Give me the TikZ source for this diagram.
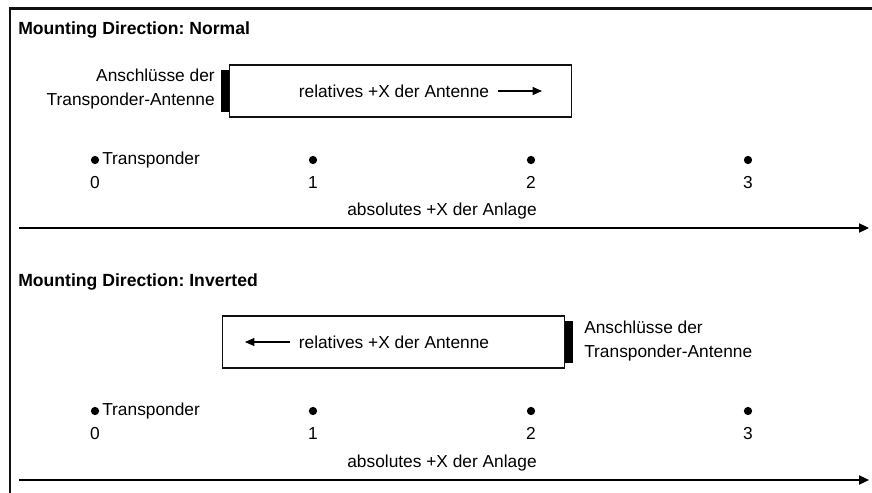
\documentclass[tikz,border=0pt]{standalone}
\usepackage{fontspec}
\setmainfont{Liberation Sans}
\usepackage{tikz}
\usetikzlibrary{arrows.meta,positioning}
\definecolor{frameink}{HTML}{111111}
\frenchspacing

\begin{document}
\begin{tikzpicture}[
  x=0.75pt, y=-0.75pt,
  font=\fontsize{13}{18}\selectfont,
  title/.style={font=\fontsize{13.2}{18}\selectfont\bfseries, anchor=west, inner sep=0pt},
  txt/.style={inner sep=0pt},
  num/.style={inner sep=0pt, anchor=base},
  antbox/.style={draw=frameink, line width=0.9pt, minimum width=257pt, minimum height=39pt, inner sep=0pt},
  plug/.style={fill=black, minimum width=6pt, minimum height=31.5pt, inner sep=0pt},
  dot/.style={circle, fill=black, minimum size=6.2pt, inner sep=0pt},
  relarr/.style={line width=0.8pt, -{Triangle[length=7pt,width=6pt]}},
  axis/.style={line width=0.8pt, -{Triangle[length=7.5pt,width=7pt]}},
]
\useasboundingbox (0,0) rectangle (872,493);
\draw[line width=2.2pt, frameink] (10,493) -- (10,8.5) -- (872,8.5);
% normal
\node[title] (titA) at (18,30) {Mounting Direction: Normal};
\node[antbox] (boxA) at (400.5,91) {};
\node[plug] (plugA) at (225,91) {};
\node[txt, anchor=east, align=right] (conA) at (215,89) {Anschlüsse der\\Transponder-Antenne};
\node[txt] (relA) at (394,91) {relatives +X der Antenne};
\coordinate (arrA0) at (498,91);
\coordinate (arrA1) at (542,91);
\draw[relarr] (arrA0) -- (arrA1);
\node[dot] (dA0) at (95,160) {};
\node[dot] (dA1) at (313,160) {};
\node[dot] (dA2) at (531,160) {};
\node[dot] (dA3) at (748,160) {};
\node[txt, anchor=west] (trA) at (102,160) {Transponder};
\node[num] (nA0) at (95,188) {0};
\node[num] (nA1) at (313,188) {1};
\node[num] (nA2) at (531,188) {2};
\node[num] (nA3) at (748,188) {3};
\node[txt] (absA) at (442,211) {absolutes +X der Anlage};
\coordinate (axA0) at (19,228);
\coordinate (axA1) at (869,228);
\draw[axis] (axA0) -- (axA1);
% inverted
\node[title] (titB) at (18,282) {Mounting Direction: Inverted};
\node[antbox] (boxB) at (393.5,342) {};
\node[plug] (plugB) at (569,342) {};
\node[txt, anchor=west, align=left] (conB) at (584,341) {Anschlüsse der\\Transponder-Antenne};
\node[txt] (relB) at (394,342) {relatives +X der Antenne};
\coordinate (arrB0) at (290,342);
\coordinate (arrB1) at (245,342);
\draw[relarr] (arrB0) -- (arrB1);
\node[dot] (dB0) at (95,411) {};
\node[dot] (dB1) at (313,411) {};
\node[dot] (dB2) at (531,411) {};
\node[dot] (dB3) at (748,411) {};
\node[txt, anchor=west] (trB) at (102,411) {Transponder};
\node[num] (nB0) at (95,439) {0};
\node[num] (nB1) at (313,439) {1};
\node[num] (nB2) at (531,439) {2};
\node[num] (nB3) at (748,439) {3};
\node[txt] (absB) at (442,463) {absolutes +X der Anlage};
\coordinate (axB0) at (19,480);
\coordinate (axB1) at (869,480);
\draw[axis] (axB0) -- (axB1);
\end{tikzpicture}
\end{document}
